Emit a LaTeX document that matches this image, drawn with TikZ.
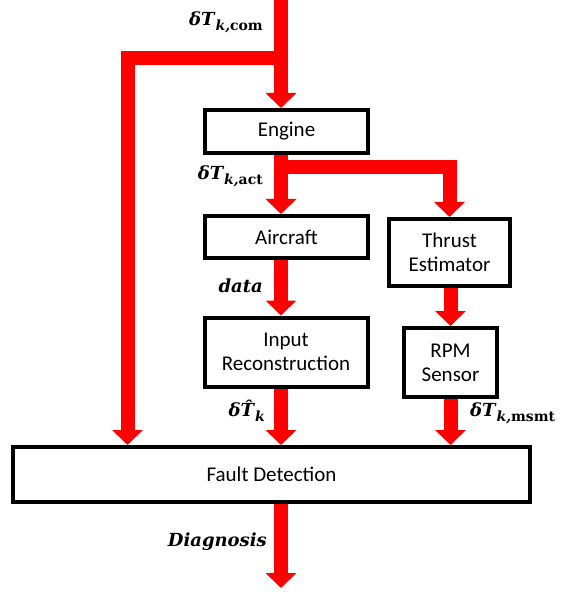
\documentclass[tikz,border=0pt]{standalone}
\usepackage{fontspec}
\setsansfont{Carlito}
\newfontfamily\sigfont{DejaVu Serif}
\usetikzlibrary{arrows.meta,positioning}
\tikzset{
    block/.style={draw,line width=4pt,fill=white,align=center,inner sep=2pt,
        font=\sffamily\fontsize{21}{24}\selectfont},
    flow/.style={draw=red,line width=14pt,line join=miter,
        -{Triangle[width=30pt,length=15pt]}},
    sig/.style={font=\sigfont\bfseries\itshape\fontsize{18}{20}\selectfont,inner sep=1pt}
}
% signal with the index k and an upright tag below
\newcommand{\sigsub}[2]{#1\kern1pt\raisebox{-5pt}{\fontsize{14}{14}\selectfont k#2}}

\begin{document}
\begin{tikzpicture}[x=1pt,y=-1pt]
    \useasboundingbox (0,0) rectangle (560,593);
    % blocks
    \node[block,minimum width=163pt,minimum height=43pt] (eng) at (286.5,131.5) {Engine};
    \node[block,minimum width=163pt,minimum height=42pt] (ac) at (286.5,237) {Aircraft};
    \node[block,minimum width=163pt,minimum height=69pt] (ir) at (286,352) {Input\\Reconstruction};
    \node[block,minimum width=121pt,minimum height=67pt] (te) at (449.5,252.5) {Thrust\\Estimator};
    \node[block,minimum width=93pt,minimum height=69pt] (rpm) at (450.5,362.5) {RPM\\Sensor};
    \node[block,minimum width=517pt,minimum height=55pt] (fd) at (271.5,474.5) {Fault Detection};

    % branch points
    \coordinate (top) at (281,0);
    \coordinate (cmd) at (281,58);
    \coordinate (left) at (127.5,58);
    \coordinate (act) at (281,167);
    \coordinate (out) at (281,588);

    % signal flow
    \draw[flow] (top) -- (top |- eng.north);
    \draw[flow] (cmd) -- (left) -- (left |- fd.north);
    \draw[flow] (top |- eng.south) -- (top |- ac.north);
    \draw[flow] (act) -| (te.north);
    \draw[flow] (top |- ac.south) -- (top |- ir.north);
    \draw[flow] (te.south -| rpm.north) -- (rpm.north);
    \draw[flow] (top |- ir.south) -- (top |- fd.north);
    \draw[flow] (rpm.south) -- (rpm.south |- fd.north);
    \draw[flow] (top |- fd.south) -- (out);

    % signal names
    \node[sig,anchor=east] (com) at (264,22) {\sigsub{δT}{,\upshape com}};
    \node[sig,anchor=east] (actl) at (264,176) {\sigsub{δT}{,\upshape act}};
    \node[sig,anchor=east] (dat) at (264,286) {data};
    \node[sig,anchor=east] (est) at (266,411) {\sigsub{δ\^T}{}};
    \node[sig,anchor=west] (msmt) at (469,413) {\sigsub{δT}{,\upshape msmt}};
    \node[sig,anchor=east] (diag) at (268,542) {Diagnosis};
\end{tikzpicture}
\end{document}
